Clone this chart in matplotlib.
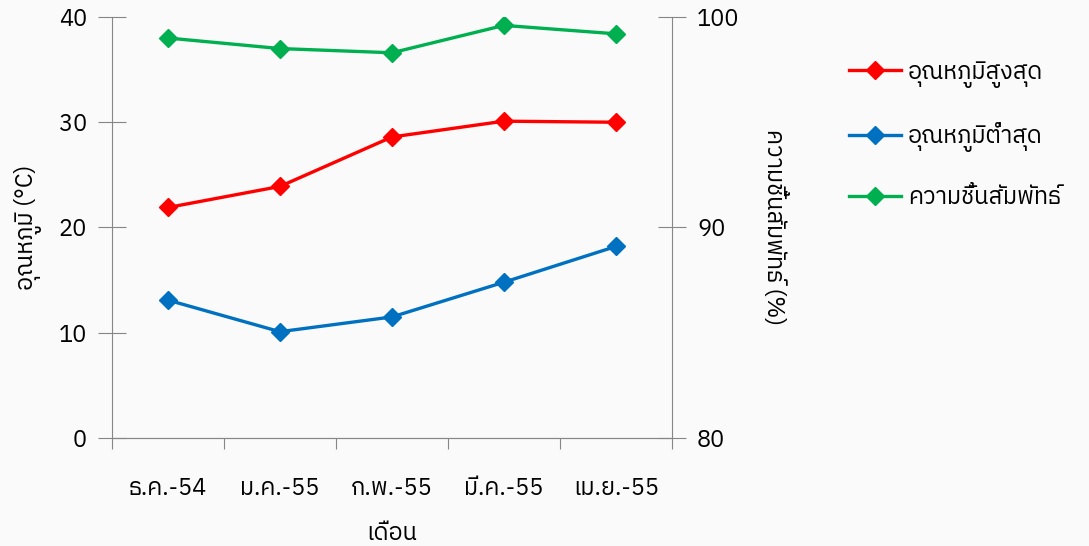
import matplotlib
matplotlib.use('Agg')
import matplotlib.pyplot as plt
from matplotlib import font_manager
from matplotlib.ft2font import FT2Font

months = ['ธ.ค.-54', 'ม.ค.-55', 'ก.พ.-55', 'มี.ค.-55', 'เม.ย.-55']
t_max = [21.9, 23.9, 28.6, 30.1, 30.0]
t_min = [13.1, 10.1, 11.5, 14.8, 18.2]
humidity = [99.0, 98.5, 98.3, 99.6, 99.2]

# find any installed font that has Thai glyphs
thai = None
for f in font_manager.fontManager.ttflist:
    try:
        if 0x0E01 in FT2Font(f.fname).get_charmap():
            thai = f.name
            if 'Sans' in f.name:
                break
    except Exception:
        pass
fams = [thai, 'DejaVu Sans'] if thai else ['DejaVu Sans']
plt.rcParams['font.family'] = fams

fs = 17
fig = plt.figure(figsize=(10.89, 5.46), dpi=100)
fig.patch.set_facecolor('#fafafa')
ax = fig.add_axes([0.1028, 0.1978, 0.617 - 0.1028, 0.9689 - 0.1978])
ax.set_facecolor('none')
ax2 = ax.twinx()

x = range(len(months))
l1, = ax.plot(x, t_max, color='#ff0000', lw=2.4, marker='D', ms=9, label='อุณหภูมิสูงสุด')
l2, = ax.plot(x, t_min, color='#0070c0', lw=2.4, marker='D', ms=9, label='อุณหภูมิต่ำสุด')
l3, = ax2.plot(x, humidity, color='#00b050', lw=2.4, marker='D', ms=9, label='ความชื้นสัมพัทธ์')

ax.set_xlim(-0.5, len(months) - 0.5)
ax.set_ylim(0, 40)
ax.set_yticks([0, 10, 20, 30, 40])
ax2.set_ylim(80, 100)
ax2.set_yticks([80, 90, 100])
ax.set_xticks([i - 0.5 for i in range(len(months) + 1)], minor=False)
ax.set_xticklabels([''] * (len(months) + 1))
ax.set_xticks(list(x), minor=True)
ax.set_xticklabels(months, minor=True)
ax.tick_params(axis='x', which='minor', length=0, labelsize=fs, pad=28)
ax.tick_params(axis='x', which='major', direction='out', length=8, color='#868686')
ax.tick_params(axis='y', direction='inout', length=20, color='#868686', labelsize=fs, pad=8)
ax2.tick_params(axis='y', direction='inout', length=20, color='#868686', labelsize=fs, pad=8)

for a in (ax, ax2):
    for s in a.spines.values():
        s.set_visible(False)
    a.spines['left'].set_visible(True)
    a.spines['bottom'].set_visible(True)
    a.spines['left'].set_color('#868686')
    a.spines['bottom'].set_color('#868686')
ax2.spines['left'].set_visible(False)
ax2.spines['right'].set_visible(True)
ax2.spines['right'].set_color('#868686')

ax.set_ylabel('อุณหภูมิ (°C)', fontsize=fs, labelpad=12)
ax2.set_ylabel('ความชื้นสัมพัทธ์ (%)', fontsize=fs, rotation=270, labelpad=34)
ax.set_xlabel('เดือน', fontsize=fs, labelpad=16)

fig.legend(handles=[l1, l2, l3], loc='upper left', bbox_to_anchor=(0.76, 0.928),
           frameon=False, fontsize=fs, handlelength=2.2, labelspacing=1.45, handletextpad=0.3)

fig.savefig('out.png', dpi=100, facecolor=fig.get_facecolor())
